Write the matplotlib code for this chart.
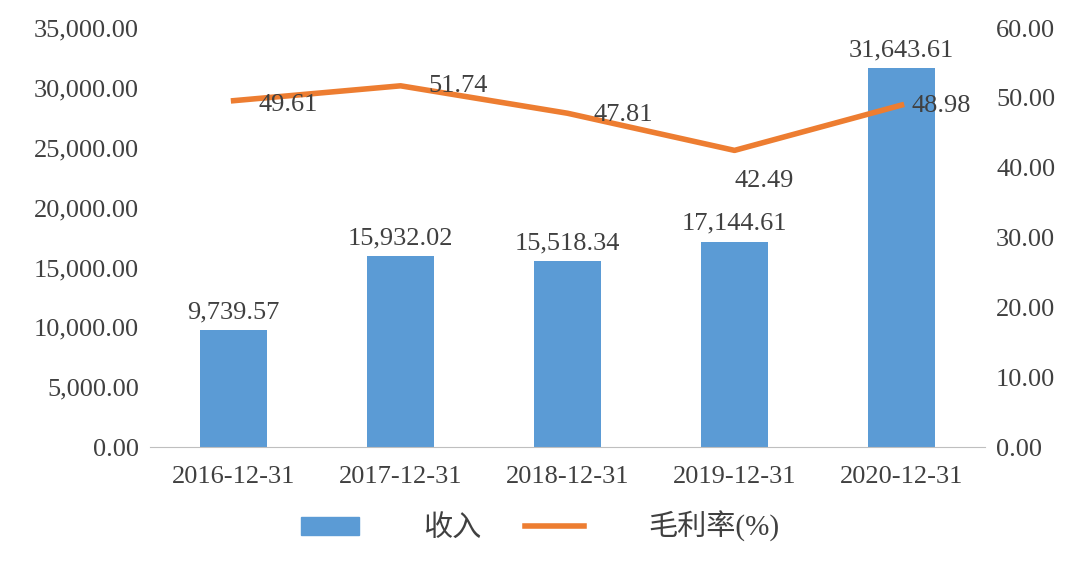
import matplotlib
matplotlib.use("Agg")
import matplotlib.pyplot as plt
from matplotlib.patches import Patch
from matplotlib.lines import Line2D

categories = ["2016-12-31", "2017-12-31", "2018-12-31", "2019-12-31", "2020-12-31"]
revenue = [9739.57, 15932.02, 15518.34, 17144.61, 31643.61]
margin = [49.61, 51.74, 47.81, 42.49, 48.98]

plt.rcParams['font.family'] = ['Liberation Serif', 'Noto Sans CJK SC', 'DejaVu Sans']
BLUE = "#5B9BD5"
ORANGE = "#ED7D31"
TXT = "#404040"

fig = plt.figure(figsize=(10.8, 5.63), dpi=100)
ax = fig.add_axes([0.139, 0.206, 0.773, 0.744])
ax2 = ax.twinx()

x = list(range(len(categories)))
ax.bar(x, revenue, width=0.4, color=BLUE, zorder=2)
ax.set_ylim(0, 35000)
ax.set_yticks(range(0, 35001, 5000))
ax.set_yticklabels([f"{v:,.2f}" for v in range(0, 35001, 5000)])
ax.set_xlim(-0.5, 4.5)
ax.set_xticks(x)
ax.set_xticklabels(categories)
for xi, v in zip(x, revenue):
    ax.annotate(f"{v:,.2f}", (xi, v), xytext=(0, 5), textcoords="offset points",
                ha="center", va="bottom", fontsize=19, color=TXT)

ax2.plot(x, margin, color=ORANGE, lw=4, zorder=3)
ax2.set_ylim(0, 60)
ax2.set_yticks(range(0, 61, 10))
ax2.set_yticklabels([f"{v:.2f}" for v in range(0, 61, 10)])
offsets = [(18, -3), (20, 0), (19, -1), (0, -22), (7, -1)]
for xi, v, off in zip(x, margin, offsets):
    ax2.annotate(f"{v:.2f}", (xi, v), xytext=off, textcoords="offset points",
                 ha="left", va="center", fontsize=19, color=TXT)

for a in (ax, ax2):
    for s in ("top", "left", "right"):
        a.spines[s].set_visible(False)
    a.tick_params(length=0, labelsize=19, colors=TXT, pad=8)
ax.spines["bottom"].set_color("#BFBFBF")
ax2.spines["bottom"].set_visible(False)
ax.tick_params(axis="x", pad=14)

handles = [Patch(color=BLUE), Line2D([0], [0], color=ORANGE, lw=4)]
fig.legend(handles, ["收入", "毛利率(%)"], loc="lower center", bbox_to_anchor=(0.5, -0.01),
           ncol=2, frameon=False, fontsize=21, handlelength=2.0, handleheight=0.6,
           columnspacing=1.5, handletextpad=2.2, labelcolor=TXT)

fig.savefig("out.png", dpi=100)
